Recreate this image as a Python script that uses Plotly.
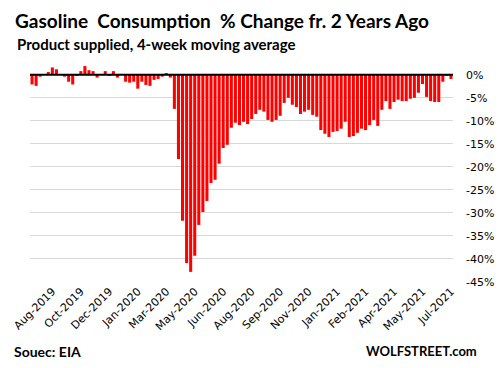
import pandas as pd
import plotly.graph_objects as go

# Weekly data (week ending Friday), 4-week moving average, % change vs 2 years ago
week_start = "2019-07-26"
n_weeks = 104
pct_change = [
    -2.1, -2.4, -0.4, 0.1, 0.6, 1.6, 1.2, 0.1, -0.4, -1.5,
    -2.1, -0.1, 0.8, 1.9, 1.0, 0.8, -0.6, 0.1, 0.8, -0.1,
    0.8, -0.6, 0.1, -1.5, -1.7, -1.5, -3.0, -1.5, -2.2, -2.4,
    -1.1, -0.9, -0.4, 0.4, -0.6, -7.4, -18.3, -31.7, -40.9, -42.8,
    -39.3, -32.6, -29.8, -27.4, -23.5, -22.8, -19.3, -15.9, -15.2, -11.5,
    -10.4, -10.9, -10.2, -10.7, -9.6, -8.5, -7.6, -8.0, -9.8, -10.2,
    -9.8, -8.9, -6.1, -5.0, -6.5, -7.0, -8.5, -8.0, -7.6, -8.7,
    -9.1, -12.0, -12.8, -13.5, -12.4, -12.2, -11.7, -10.2, -13.5, -13.3,
    -12.6, -11.7, -12.0, -10.9, -9.8, -11.1, -7.6, -5.7, -7.4, -5.9,
    -5.4, -5.7, -5.7, -5.2, -5.0, -3.9, -2.0, -4.8, -5.7, -5.9,
    -5.9, -1.5, -0.1, -0.9,
]
x_tick_labels = [
    "Aug-2019", "Oct-2019", "Dec-2019", "Jan-2020", "Mar-2020",
    "May-2020", "Jun-2020", "Aug-2020", "Sep-2020", "Nov-2020",
    "Jan-2021", "Feb-2021", "Apr-2021", "May-2021", "Jul-2021",
]
y_tick_values = [0, -5, -10, -15, -20, -25, -30, -35, -40, -45]
y_tick_labels = ["0%", "-5%", "-10%", "-15%", "-20%", "-25%", "-30%", "-35%", "-40%", "-45%"]

weeks = pd.date_range(week_start, periods=n_weeks, freq="7D")
tick_dates = list(weeks[5::7])

fig = go.Figure(
    go.Bar(x=weeks, y=pct_change, marker=dict(color="#FF0000", line=dict(width=0)))
)

fig.update_layout(
    width=501,
    height=368,
    margin=dict(l=30, r=48, t=61, b=86, autoexpand=False),
    paper_bgcolor="white",
    plot_bgcolor="white",
    bargap=0.25,
    showlegend=False,
    font=dict(family="DejaVu Sans", color="#111111"),
    title=dict(
        text="Gasoline  Consumption  % Change fr. 2 Years Ago",
        x=15 / 501,
        xanchor="left",
        y=1 - 21 / 368,
        yanchor="middle",
        xref="container",
        yref="container",
        automargin=False,
        font=dict(family="Lato", size=19, color="#000000", weight="bold"),
    ),
)

fig.update_xaxes(
    type="date",
    automargin=False,
    tickmode="array",
    tickvals=tick_dates,
    ticktext=x_tick_labels,
    tickangle=-45,
    showgrid=False,
    zeroline=False,
    showline=False,
    ticks="",
    tickfont=dict(family="DejaVu Sans", size=11, color="#000000"),
)

fig.update_yaxes(
    side="right",
    automargin=False,
    range=[-45, 3],
    tickmode="array",
    tickvals=y_tick_values,
    ticktext=y_tick_labels,
    showgrid=True,
    gridcolor="#d9d9d9",
    gridwidth=1,
    zeroline=False,
    showline=False,
    ticks="",
    ticklabelstandoff=12,
    tickfont=dict(family="DejaVu Sans", size=11, color="#000000"),
)

fig.add_shape(
    type="line", xref="paper", yref="y", x0=0, x1=1, y0=0, y1=0,
    line=dict(color="#000000", width=2), layer="above",
)

fig.add_annotation(
    text="<b>Product supplied, 4-week moving average</b>",
    xref="paper", yref="paper", x=(15 - 30) / 423, y=1 + 17 / 221,
    xanchor="left", yanchor="middle", showarrow=False,
    font=dict(family="Lato", size=15, color="#000000"),
)
fig.add_annotation(
    text="<b>Souec: EIA</b>",
    xref="paper", yref="paper", x=(12 - 30) / 423, y=1 - (351 - 61) / 221,
    xanchor="left", yanchor="middle", showarrow=False,
    font=dict(family="Lato", size=14, color="#000000"),
)
fig.add_annotation(
    text="<b>WOLFSTREET.com</b>",
    xref="paper", yref="paper", x=(479 - 30) / 423, y=1 - (351 - 61) / 221,
    xanchor="right", yanchor="middle", showarrow=False,
    font=dict(family="Lato", size=13, color="#000000"),
)

fig.write_html(
    "out.html",
    config={"displayModeBar": False},
    post_script="document.body.style.margin='0px';document.body.style.overflow='hidden';",
)
